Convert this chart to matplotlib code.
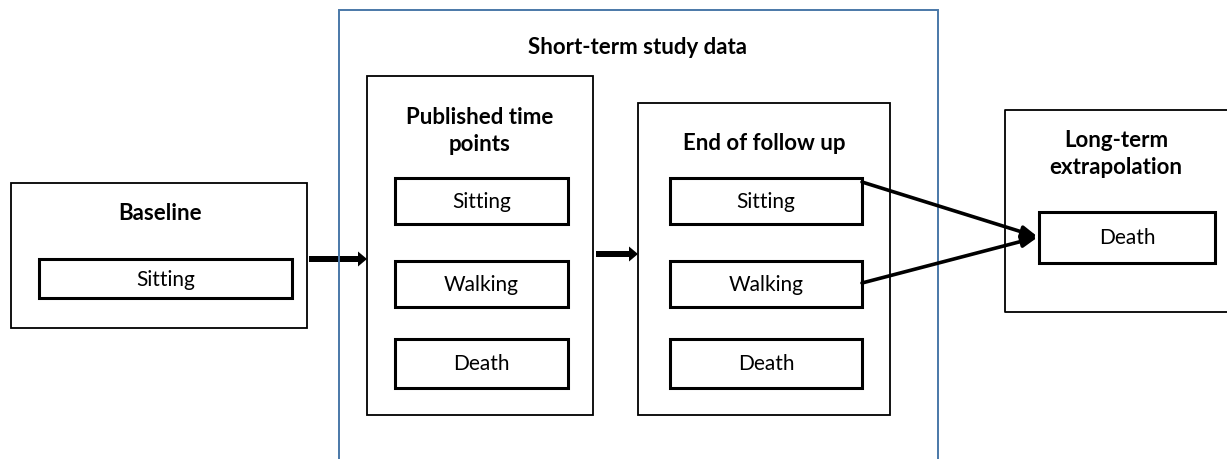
import matplotlib.pyplot as plt
from matplotlib.patches import Rectangle, FancyArrow

# diagram content
group_title = 'Short-term study data'
stage_titles = ['Baseline', 'Published time\npoints', 'End of follow up',
                'Long-term\nextrapolation']
baseline_states = ['Sitting']
published_states = ['Sitting', 'Walking', 'Death']
followup_states = ['Sitting', 'Walking', 'Death']
longterm_states = ['Death']

W, H = 1227, 459
fig = plt.figure(figsize=(W / 100, H / 100), dpi=100)
ax = fig.add_axes([0, 0, 1, 1])
ax.set_xlim(0, W)
ax.set_ylim(H, 0)
ax.axis('off')

FONT = 'Lato'


def box(x0, y0, x1, y1, lw=1.3, color='black'):
    ax.add_patch(Rectangle((x0, y0), x1 - x0, y1 - y0, fill=False,
                           edgecolor=color, linewidth=lw))


def state_box(x0, y0, x1, y1, label):
    box(x0, y0, x1, y1, lw=2.2)
    ax.text((x0 + x1) / 2, (y0 + y1) / 2 + 1, label, ha='center', va='center',
            fontsize=15, family=FONT)


def title(x, y, s):
    ax.text(x, y, s, ha='center', va='center', fontsize=16, family=FONT,
            fontweight='bold', linespacing=1.3)


# blue group frame (bottom edge runs off the picture)
blue = '#4a78a8'
ax.plot([339, 339, 938, 938], [470, 10, 10, 470], color=blue, lw=1.4,
        solid_joinstyle='miter')
title(638, 48, group_title)

# baseline
box(11, 183, 307, 328)
title(160, 213, stage_titles[0])
state_box(39, 259, 292, 298, baseline_states[0])

# published time points
box(367, 76, 593, 415)
title(480, 131, stage_titles[1])
rows = [(178, 224), (261, 307), (339, 388)]
for (y0, y1), lab in zip(rows, published_states):
    state_box(395, y0, 568, y1, lab)

# end of follow up
box(638, 103, 890, 415)
title(764, 144, stage_titles[2])
for (y0, y1), lab in zip(rows, followup_states):
    state_box(670, y0, 862, y1, lab)

# long-term extrapolation (right edge runs off the picture)
ax.plot([1240, 1005, 1005, 1240], [110, 110, 312, 312], color='black', lw=1.3)
title(1116, 154, stage_titles[3])
state_box(1039, 212, 1215, 263, longterm_states[0])

# thick block arrows between stages
for x0, x1, y in [(309, 367, 259), (596, 638, 254)]:
    ax.add_patch(FancyArrow(x0, y, x1 - x0, 0, width=6, head_width=15,
                            head_length=9, length_includes_head=True,
                            color='black', lw=0))

# transitions into death
for ys in (182, 283):
    ax.annotate('', xy=(1038, 237), xytext=(862, ys),
                arrowprops=dict(arrowstyle='-|>,head_length=0.9,head_width=0.35',
                                color='black', lw=2.6, shrinkA=0, shrinkB=0))

fig.savefig('out.png', dpi=100, facecolor='white')
